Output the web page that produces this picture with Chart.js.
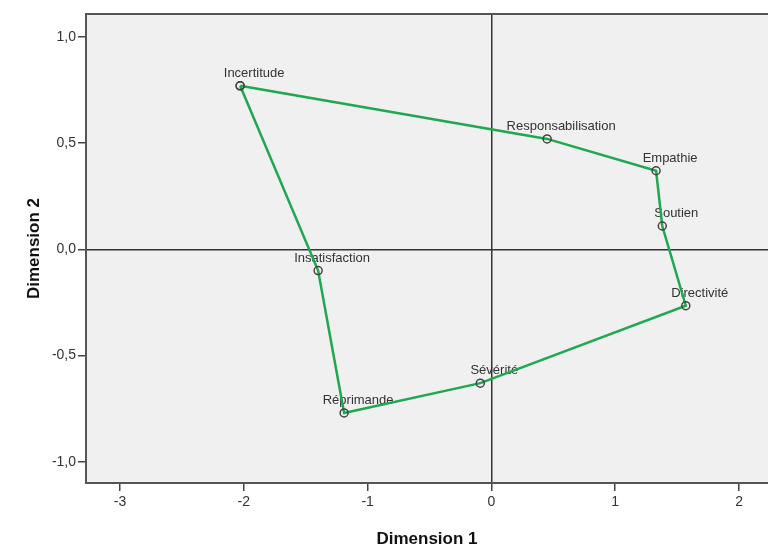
<!DOCTYPE html>
<html>
<head>
<meta charset="utf-8">
<script src="https://cdn.jsdelivr.net/npm/chart.js@4"></script>
<style>
  html, body { margin: 0; padding: 0; background: white; overflow: hidden; }
</style>
</head>
<body>
<canvas id="chart" width="768" height="550"></canvas>
<script>
// points of the map, in the order of the polygon
const labels = ['Incertitude', 'Responsabilisation', 'Empathie', 'Soutien', 'Directivité', 'Sévérité', 'Réprimande', 'Insatisfaction'];
const dim1 = [-2.03, 0.45, 1.33, 1.38, 1.57, -0.09, -1.19, -1.40];
const dim2 = [0.77, 0.52, 0.37, 0.11, -0.265, -0.63, -0.77, -0.10];

const xticks = [-3, -2, -1, 0, 1, 2];
const yticks = [-1.0, -0.5, 0.0, 0.5, 1.0];

const fontfamily = '"Liberation Sans", Arial, sans-serif';
const linecolor = 'rgb(30, 168, 80)';
const framecolor = '#555';

// closed polygon: back to the first point
const points = labels.map((l, i) => ({ x: dim1[i], y: dim2[i] }));
points.push({ x: dim1[0], y: dim2[0] });

const setticks = (values) => (scale) => {
  scale.ticks = values.map(v => ({ value: v }));
};

new Chart(document.getElementById('chart').getContext('2d'), {
  type: 'scatter',
  data: {
    datasets: [
      {
        data: points,
        showLine: true,
        tension: 0,
        borderColor: linecolor,
        borderWidth: 2.5,
        pointRadius: 4,
        pointHoverRadius: 4,
        pointBorderColor: '#444',
        pointBorderWidth: 1.5,
        pointBackgroundColor: 'rgba(0,0,0,0)',
      },
    ],
  },
  options: {
    responsive: false,
    animation: false,
    devicePixelRatio: 1,
    layout: {
      autoPadding: false,
      padding: { top: 14, left: 0, right: 0, bottom: 0 },
    },
    scales: {
      x: {
        type: 'linear',
        min: -3.275,
        max: 2.234,
        afterBuildTicks: setticks(xticks),
        afterFit: (scale) => {
          scale.height = 67;
          scale.paddingLeft = 0;
          scale.paddingRight = 0;
        },
        ticks: {
          padding: 3,
          color: '#333',
          font: { family: fontfamily, size: 14 },
          callback: (v) => String(v),
        },
        grid: {
          drawOnChartArea: true,
          color: (c) => (c.tick && c.tick.value === 0 ? '#333' : 'rgba(0,0,0,0)'),
          lineWidth: 1.5,
          tickColor: '#444',
          tickWidth: 1.5,
          tickLength: 8,
        },
        border: { display: true, color: framecolor, width: 2 },
        title: {
          display: true,
          text: 'Dimension 1',
          color: '#111',
          font: { family: fontfamily, size: 17, weight: 'bold' },
          padding: { top: 3, bottom: 0 },
        },
      },
      y: {
        type: 'linear',
        min: -1.1,
        max: 1.108,
        afterBuildTicks: setticks(yticks),
        afterFit: (scale) => {
          scale.width = 86;
          scale.paddingTop = 0;
          scale.paddingBottom = 0;
        },
        ticks: {
          padding: 2,
          color: '#333',
          font: { family: fontfamily, size: 14 },
          callback: (v) => v.toFixed(1).replace('.', ','),
        },
        grid: {
          drawOnChartArea: true,
          color: (c) => (c.tick && c.tick.value === 0 ? '#333' : 'rgba(0,0,0,0)'),
          lineWidth: 1.5,
          tickColor: '#444',
          tickWidth: 1.5,
          tickLength: 8,
        },
        border: { display: true, color: framecolor, width: 2 },
        title: {
          display: true,
          text: 'Dimension 2',
          color: '#111',
          font: { family: fontfamily, size: 17, weight: 'bold' },
          padding: { top: 24, bottom: 0 },
        },
      },
    },
    plugins: {
      legend: { display: false },
      tooltip: { enabled: false },
    },
  },
  plugins: [
    {
      beforeDraw: (chart) => {
        const ctx = chart.ctx;
        const area = chart.chartArea;
        ctx.save();
        ctx.fillStyle = '#f0f0f0';
        ctx.fillRect(area.left, area.top, area.width, area.height);
        ctx.restore();
      },
      beforeDatasetsDraw: (chart) => {
        const ctx = chart.ctx;
        const sx = chart.scales.x;
        const sy = chart.scales.y;
        ctx.save();
        ctx.font = `13px ${fontfamily}`;
        ctx.fillStyle = '#333';
        ctx.textAlign = 'center';
        ctx.textBaseline = 'alphabetic';
        labels.forEach((l, i) => {
          const px = sx.getPixelForValue(dim1[i]);
          const py = sy.getPixelForValue(dim2[i]);
          ctx.fillText(l, px + 14, py - 9);
        });
        ctx.restore();
      },
      afterDraw: (chart) => {
        // top frame line
        const ctx = chart.ctx;
        const area = chart.chartArea;
        ctx.save();
        ctx.strokeStyle = framecolor;
        ctx.lineWidth = 2;
        ctx.beginPath();
        ctx.moveTo(area.left - 1, area.top);
        ctx.lineTo(area.right, area.top);
        ctx.stroke();
        ctx.restore();
      },
    },
  ],
});
</script>
</body>
</html>
